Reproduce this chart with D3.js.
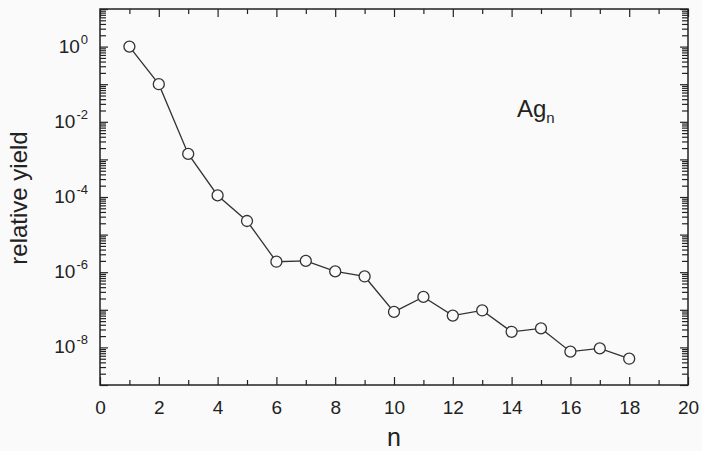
<!DOCTYPE html>
<html>
<head>
<meta charset="utf-8">
<script src="https://cdn.jsdelivr.net/npm/d3@7"></script>
<style>
  body { margin: 0; background: #fafafa; }
  svg { display: block; font-family: "Liberation Sans", Arial, sans-serif; }
</style>
</head>
<body>
<svg width="702" height="451"></svg>
<script>
// data
const clusterSize = [1, 2, 3, 4, 5, 6, 7, 8, 9, 10, 11, 12, 13, 14, 15, 16, 17, 18];
const relYield = [1.0, 0.1, 1.4e-3, 1.1e-4, 2.3e-5, 1.9e-6, 2.0e-6, 1.05e-6, 7.7e-7,
                  8.8e-8, 2.2e-7, 7.0e-8, 9.6e-8, 2.6e-8, 3.2e-8, 7.7e-9, 9.4e-9, 5.0e-9];
const xMajor = [0, 2, 4, 6, 8, 10, 12, 14, 16, 18, 20];
const xMinor = [1, 3, 5, 7, 9, 11, 13, 15, 17, 19];
const yDecades = [-9, -8, -7, -6, -5, -4, -3, -2, -1, 0, 1];
const yLabelled = [0, -2, -4, -6, -8];

const margin = {top: 9, right: 14, bottom: 66, left: 100};
const svgWidth = 702, svgHeight = 451;
const width = svgWidth - margin.left - margin.right;
const height = svgHeight - margin.top - margin.bottom;

const svg = d3.select("svg");
const chart = svg.append("g")
  .attr("transform", `translate(${margin.left}, ${margin.top})`);

const xScale = d3.scaleLinear().domain([0, 20]).range([0, width]);
const yScale = d3.scaleLog().domain([1e-9, 10]).range([height, 0]);

var yMajor = yDecades.map(k => Math.pow(10, k));
var yMinor = [];
yDecades.slice(0, -1).forEach(k => {
  for (let m = 2; m <= 9; m++) yMinor.push(m * Math.pow(10, k));
});

function styleAxis(g) {
  g.select(".domain").remove();
  g.selectAll(".tick line").attr("stroke", "#222").attr("stroke-width", 1.2);
  g.selectAll("text").attr("fill", "#222");
}

//x axes, bottom and top
chart.append("g")
  .attr("transform", `translate(0, ${height})`)
  .call(d3.axisBottom(xScale).tickValues(xMajor).tickSize(-8).tickPadding(16).tickFormat(d3.format("d")))
  .call(styleAxis)
  .selectAll("text").style("font-size", "19px");
chart.append("g")
  .attr("transform", `translate(0, ${height})`)
  .call(d3.axisBottom(xScale).tickValues(xMinor).tickSize(-5).tickFormat(""))
  .call(styleAxis);
chart.append("g")
  .call(d3.axisTop(xScale).tickValues(xMajor).tickSize(-8).tickFormat(""))
  .call(styleAxis);
chart.append("g")
  .call(d3.axisTop(xScale).tickValues(xMinor).tickSize(-5).tickFormat(""))
  .call(styleAxis);

//y axes, left and right
chart.append("g")
  .call(d3.axisLeft(yScale).tickValues(yMajor).tickSize(-8).tickFormat(""))
  .call(styleAxis);
chart.append("g")
  .call(d3.axisLeft(yScale).tickValues(yMinor).tickSize(-6).tickFormat(""))
  .call(styleAxis);
chart.append("g")
  .attr("transform", `translate(${width}, 0)`)
  .call(d3.axisRight(yScale).tickValues(yMajor).tickSize(-8).tickFormat(""))
  .call(styleAxis);
chart.append("g")
  .attr("transform", `translate(${width}, 0)`)
  .call(d3.axisRight(yScale).tickValues(yMinor).tickSize(-6).tickFormat(""))
  .call(styleAxis);

//power-of-ten labels
const yLab = chart.append("g").selectAll("text")
  .data(yLabelled)
  .enter()
  .append("text")
    .attr("x", -12)
    .attr("y", k => yScale(Math.pow(10, k)) + 6)
    .attr("text-anchor", "end")
    .attr("fill", "#222")
    .style("font-size", "19px");
yLab.append("tspan").text("10");
yLab.append("tspan")
  .attr("dy", -9)
  .attr("dx", 1)
  .style("font-size", "13px")
  .text(k => k === 0 ? "0" : "-" + Math.abs(k));

//frame
chart.append("rect")
  .attr("width", width)
  .attr("height", height)
  .attr("fill", "none")
  .attr("stroke", "#222")
  .attr("stroke-width", 1.5);

//line and markers
const pts = clusterSize.map((n, i) => [n, relYield[i]]);
chart.append("path")
  .datum(pts)
  .attr("fill", "none")
  .attr("stroke", "#333")
  .attr("stroke-width", 1.3)
  .attr("d", d3.line().x(d => xScale(d[0])).y(d => yScale(d[1])));

chart.selectAll("circle")
  .data(pts)
  .enter()
  .append("circle")
    .attr("cx", d => xScale(d[0]))
    .attr("cy", d => yScale(d[1]))
    .attr("r", 5.5)
    .attr("fill", "#fafafa")
    .attr("stroke", "#333")
    .attr("stroke-width", 1.3);

//axis titles
svg.append("text")
  .attr("x", 394)
  .attr("y", 446)
  .attr("text-anchor", "middle")
  .attr("fill", "#222")
  .style("font-size", "25px")
  .text("n");

svg.append("text")
  .attr("transform", "translate(27, 198) rotate(-90)")
  .attr("text-anchor", "middle")
  .attr("fill", "#222")
  .style("font-size", "24px")
  .text("relative yield");

//species label
const ag = svg.append("text")
  .attr("x", 517)
  .attr("y", 117)
  .attr("fill", "#222")
  .style("font-size", "24px");
ag.append("tspan").text("Ag");
ag.append("tspan")
  .attr("dy", 6)
  .style("font-size", "15px")
  .text("n");
</script>
</body>
</html>
